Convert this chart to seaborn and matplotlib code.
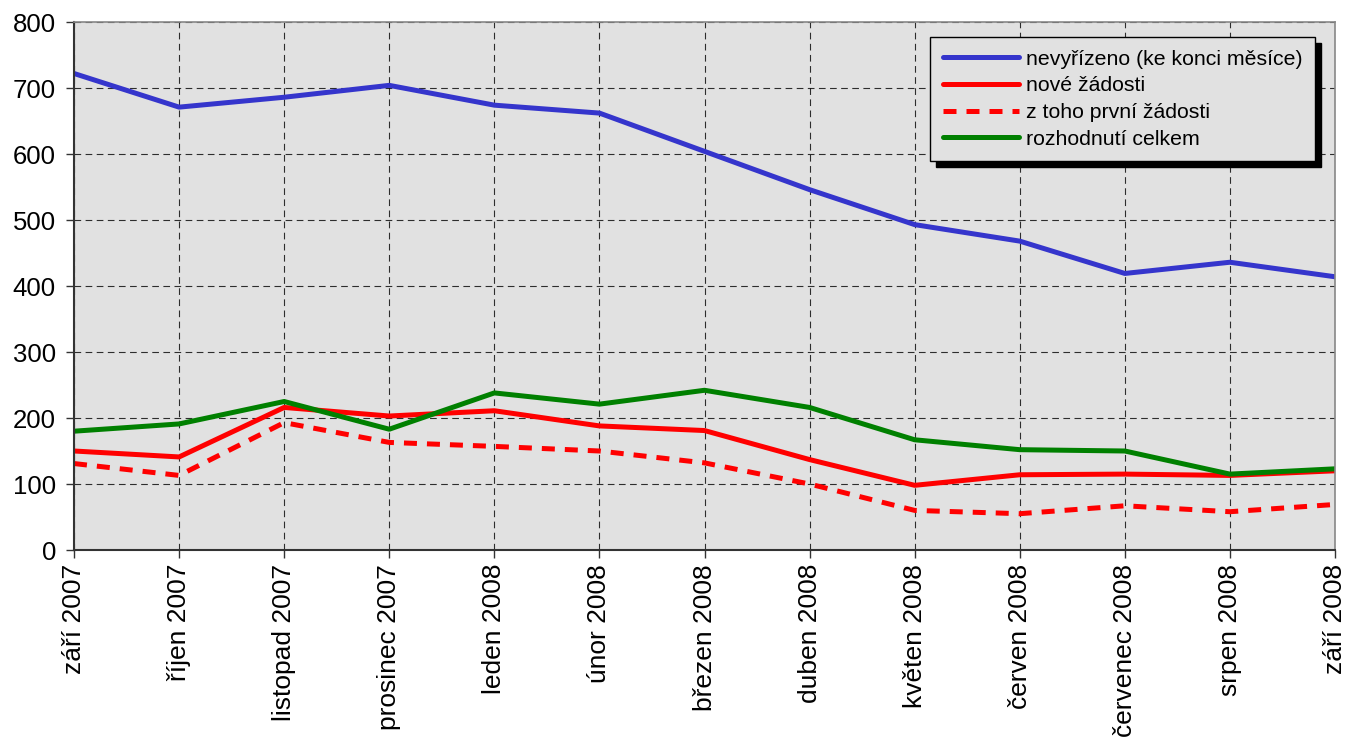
import matplotlib
matplotlib.use("Agg")
import matplotlib.pyplot as plt
import seaborn as sns
import numpy as np
import pandas as pd

mesice = ["září 2007", "říjen 2007", "listopad 2007", "prosinec 2007", "leden 2008",
          "únor 2008", "březen 2008", "duben 2008", "květen 2008", "červen 2008",
          "červenec 2008", "srpen 2008", "září 2008"]
nevyrizeno = [722, 671, 686, 704, 674, 662, 604, 546, 493, 468, 419, 436, 414]
nove_zadosti = [150, 141, 216, 203, 211, 188, 181, 137, 98, 114, 115, 113, 120]
prvni_zadosti = [131, 113, 193, 163, 157, 150, 132, 100, 60, 55, 67, 58, 69]
rozhodnuti = [180, 191, 225, 183, 238, 221, 242, 216, 167, 152, 150, 115, 123]

sns.set_style("white")
plt.rcParams["font.family"] = ["Liberation Sans", "DejaVu Sans"]
plt.rcParams["text.color"] = "black"
plt.rcParams["xtick.color"] = "black"
plt.rcParams["ytick.color"] = "black"

df = pd.DataFrame({
    "pos": np.arange(len(mesice)),
    "nevyřízeno (ke konci měsíce)": nevyrizeno,
    "nové žádosti": nove_zadosti,
    "z toho první žádosti": prvni_zadosti,
    "rozhodnutí celkem": rozhodnuti,
})

fig = plt.figure(figsize=(13.48, 7.43), dpi=100)
ax = fig.add_axes([74 / 1348, 1 - 550 / 743, (1335 - 74) / 1348, (550 - 22) / 743])
ax.set_facecolor("#e1e1e1")

styles = [
    ("nevyřízeno (ke konci měsíce)", "#3535cc", "-"),
    ("nové žádosti", "#ff0000", "-"),
    ("z toho první žádosti", "#ff0000", (0, (2.6, 2.0))),
    ("rozhodnutí celkem", "#008000", "-"),
]
for name, color, ls in styles:
    sns.lineplot(data=df, x="pos", y=name, ax=ax, color=color, linewidth=3.6,
                 linestyle=ls, label=name)

ax.set_xlim(0, len(mesice) - 1)
ax.set_ylim(0, 800)
ax.set_yticks(range(0, 801, 100))
ax.set_xticks(df["pos"])
ax.set_xticklabels(mesice, rotation=90, fontsize=19)
ax.tick_params(axis="y", labelsize=18.5, pad=7)
ax.tick_params(axis="x", pad=4)
ax.tick_params(direction="out", length=6, width=1, color="#333333", bottom=True, left=True)
ax.set_xlabel("")
ax.set_ylabel("")
ax.grid(True, color="black", linestyle=(0, (6, 4)), linewidth=0.8, alpha=0.8)

for side in ["left", "bottom"]:
    ax.spines[side].set_color("#333333")
    ax.spines[side].set_linewidth(1.5)
for side in ["right", "top"]:
    ax.spines[side].set_color("#888888")
    ax.spines[side].set_linewidth(1.2)

leg = ax.legend(loc="upper right", bbox_to_anchor=(1315 / 1348, 1 - 37 / 743),
                bbox_transform=fig.transFigure, borderaxespad=0, fontsize=15.3,
                handlelength=3.6, handletextpad=0.3, labelspacing=0.36,
                borderpad=0.6, frameon=True, fancybox=False,
                framealpha=1, edgecolor="black", facecolor="#e1e1e1",
                shadow={"ox": 4, "oy": -4, "color": "black", "alpha": 1})
leg.get_frame().set_linewidth(1)

fig.savefig("out.png", dpi=100)
